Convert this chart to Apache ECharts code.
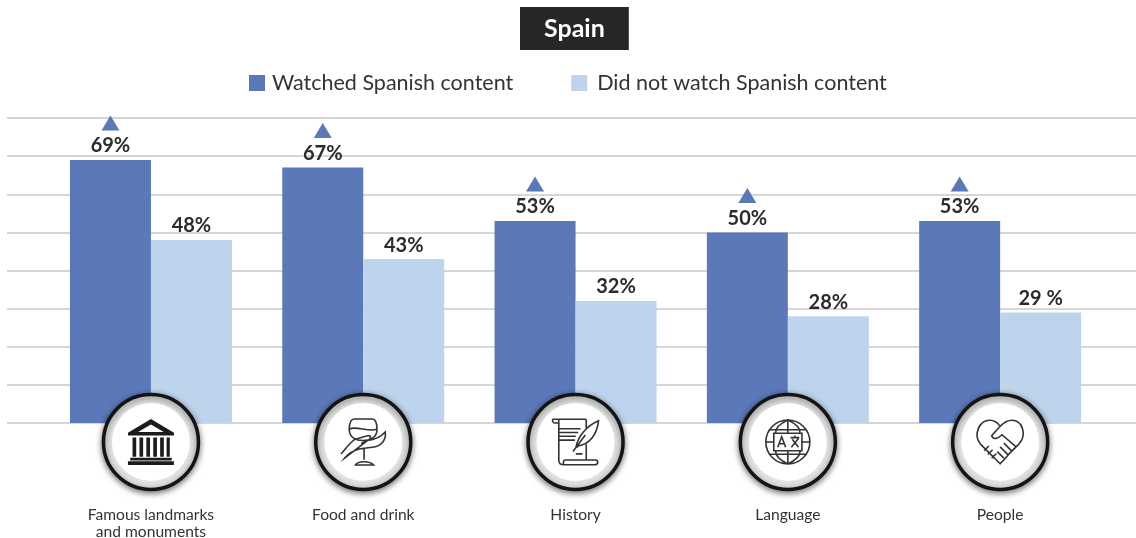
<!DOCTYPE html>
<html>
<head>
<meta charset="utf-8">
<title>Spain</title>
<script src="https://cdn.jsdelivr.net/npm/echarts@6/dist/echarts.min.js"></script>
<style>
  html, body { margin: 0; background: #fff; }
  #chart { width: 1136px; height: 538px; }
</style>
</head>
<body>
<div id="chart"></div>
<script>
const categories = ["Famous landmarks\nand monuments", "Food and drink", "History", "Language", "People"];
const watched = [69, 67, 53, 50, 53];
const notWatched = [48, 43, 32, 28, 29];
const watchedLabels = ["69%", "67%", "53%", "50%", "53%"];
const notWatchedLabels = ["48%", "43%", "32%", "28%", "29 %"];

// icons inside the circles, drawn in a 100x100 box
const iconLandmark = "path://M50 0L100 30L100 36L0 36L0 30ZM50 12L22 28L78 28ZM10 40h8v42h-8zM25 40h8v42h-8zM40 40h8v42h-8zM55 40h8v42h-8zM70 40h8v42h-8zM84 40h7v42h-7zM5 84h90v6h-90zM0 92h100v8h-100z";
const iconFood = "path://M28 3C20 3 17 12 17 25C17 42 32 48 45 48C60 48 75 42 75 25C75 12 72 3 65 3ZM18 24C30 16 60 32 75 24M0 76C12 62 20 50 30 45L55 38C65 36 62 46 55 48L42 54M55 48C70 46 85 38 92 30C95 45 85 60 65 62L40 65C28 68 15 75 8 84ZM48 65V88M30 99C35 90 60 90 68 99Z";
const iconHistory = "path://M2 2H72M2 2C0 2 0 10 6 10H14M14 2V88C14 96 20 98 24 98H90C98 98 98 88 92 88H28C22 88 24 98 24 98M72 2V24M72 55V88M14 22H60M14 30H55M14 38H50M14 46H48M50 75H64M50 62C55 35 75 15 98 5C95 35 78 55 56 58ZM44 70L70 35";
const iconLanguage = "path://M0 50A50 50 0 1 1 100 50A50 50 0 1 1 0 50ZM18 30H82V70H18ZM27 62L36 38L45 62M30 54H42M56 40H76M66 35V40M58 62L74 42M60 44L74 62M50 0V30M50 70V100M50 0C28 10 22 22 22 30M50 0C72 10 78 22 78 30M50 100C28 90 22 78 22 70M50 100C72 90 78 78 78 70M8 22H92M8 78H92M0 50H18M82 50H100";
const iconPeople = "path://M50 98L8 56C-8 36 5 5 28 5C38 5 46 12 50 18C58 10 65 5 75 5C98 5 108 36 90 56L68 78C60 88 56 92 50 98ZM50 18L32 38C36 48 46 44 54 36L84 62M74 70L58 54M66 78L50 62M58 86L44 72M26 60L16 70M34 68L24 78M42 76L32 86";
const icons = [iconLandmark, iconFood, iconHistory, iconLanguage, iconPeople];
const iconSizes = [46, 46, 46, 44, 46];

const fontName = "Lato";
const valueLabel = function (texts) {
  return {
    show: true,
    position: "top",
    distance: 4,
    fontFamily: fontName,
    fontSize: 20,
    fontWeight: "bold",
    color: "#2b2b2b",
    formatter: (p) => texts[p.dataIndex],
  };
};

const chart = echarts.init(document.getElementById("chart"));

const option = {
  animation: false,
  title: {
    text: "Spain",
    left: 520,
    top: 7,
    padding: [9, 24, 9, 24],
    backgroundColor: "#262626",
    textStyle: { color: "#fff", fontFamily: fontName, fontSize: 25, fontWeight: "bold" },
  },
  legend: {
    data: [
      { name: "Watched Spanish content" },
      { name: "Did not watch Spanish content", textStyle: { padding: [0, 0, 0, 5] } },
    ],
    left: 249,
    top: 72,
    padding: 0,
    icon: "rect",
    itemWidth: 16,
    itemHeight: 16,
    itemGap: 58,
    textStyle: { fontFamily: fontName, fontSize: 21.5, color: "#333", padding: [0, 0, 0, 2] },
  },
  // grid 0 only holds the long background lines, grid 1 holds the bars
  grid: [
    { left: 7, right: 0, top: 118, height: 305, outerBoundsMode: "none" },
    { left: 44.8, width: 1061.5, top: 118, height: 305, outerBoundsMode: "none" },
  ],
  xAxis: [
    { type: "value", gridIndex: 0, show: false },
    {
      type: "category",
      gridIndex: 1,
      data: categories,
      axisTick: { show: false },
      axisLine: { show: false },
      axisLabel: { margin: 83, fontFamily: fontName, fontSize: 15.6, lineHeight: 17, color: "#333" },
    },
  ],
  yAxis: [
    {
      type: "value",
      gridIndex: 0,
      min: 0,
      max: 80,
      interval: 10,
      axisLabel: { show: false },
      axisTick: { show: false },
      axisLine: { show: false },
      splitLine: { lineStyle: { color: "#c9c9c9", width: 1.5 } },
    },
    { type: "value", gridIndex: 1, min: 0, max: 80, show: false, splitLine: { show: false } },
  ],
  series: [
    {
      name: "Watched Spanish content",
      type: "bar",
      xAxisIndex: 1,
      yAxisIndex: 1,
      data: watched,
      barWidth: 81,
      barGap: 0,
      itemStyle: { color: "#5b78b9" },
      label: valueLabel(watchedLabels),
    },
    {
      name: "Did not watch Spanish content",
      type: "bar",
      xAxisIndex: 1,
      yAxisIndex: 1,
      data: notWatched,
      barWidth: 81,
      barGap: 0,
      itemStyle: { color: "#bdd4ec" },
      label: valueLabel(notWatchedLabels),
    },
    {
      // triangles above the dark bars
      type: "scatter",
      xAxisIndex: 1,
      yAxisIndex: 1,
      data: watched.map((v, i) => [i, v]),
      symbol: "triangle",
      symbolSize: [18, 15],
      symbolOffset: [-40.5, -37],
      itemStyle: { color: "#5b78b9", opacity: 1 },
      z: 5,
      silent: true,
    },
    {
      // outer circle with the grey ring
      type: "scatter",
      xAxisIndex: 1,
      yAxisIndex: 1,
      clip: false,
      data: categories.map((c, i) => [i, 0]),
      symbol: "circle",
      symbolSize: 95,
      symbolOffset: [0, 19],
      itemStyle: {
        color: "#e1e3e3",
        opacity: 1,
        borderColor: "#141414",
        borderWidth: 3.5,
        shadowBlur: 6,
        shadowOffsetY: 2,
        shadowColor: "rgba(0,0,0,0.5)",
      },
      z: 6,
      silent: true,
    },
    {
      type: "scatter",
      xAxisIndex: 1,
      yAxisIndex: 1,
      clip: false,
      data: categories.map((c, i) => [i, 0]),
      symbol: "circle",
      symbolSize: 78,
      symbolOffset: [0, 19],
      itemStyle: { color: "#fff", opacity: 1 },
      z: 7,
      silent: true,
    },
    {
      // icons
      type: "scatter",
      xAxisIndex: 1,
      yAxisIndex: 1,
      clip: false,
      data: icons.map((icon, i) => ({
        value: [i, 0],
        symbol: icon,
        symbolSize: iconSizes[i],
        itemStyle:
          i === 0
            ? { color: "#1c1c1c", opacity: 1 }
            : { color: "transparent", opacity: 1, borderColor: "#333", borderWidth: 1.6 },
      })),
      symbolKeepAspect: true,
      symbolOffset: [0, 19],
      z: 8,
      silent: true,
    },
  ],
};

chart.setOption(option);
</script>
</body>
</html>
